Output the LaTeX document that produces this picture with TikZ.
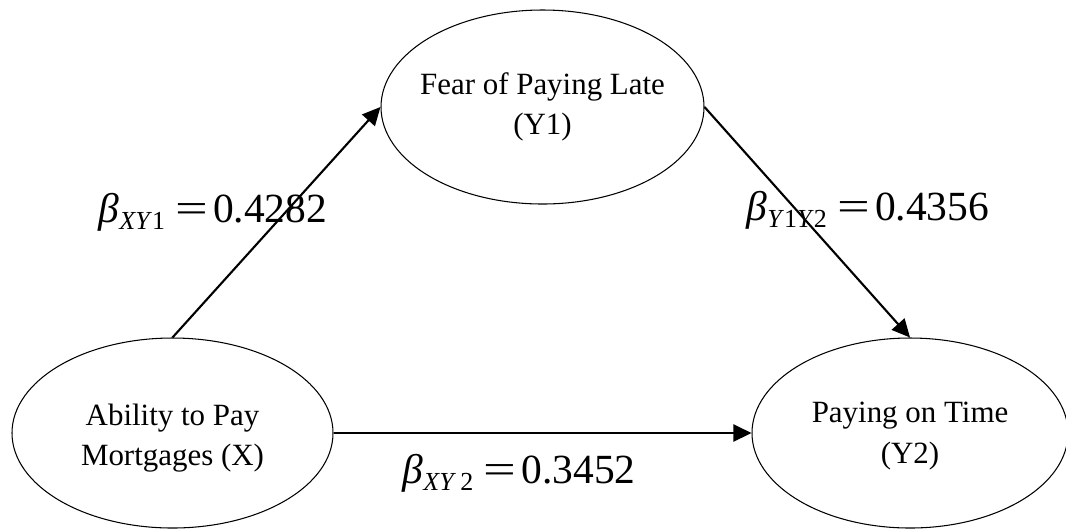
\documentclass[tikz,border=0pt]{standalone}
\usepackage{fontspec}
\setmainfont{Liberation Serif}
\usetikzlibrary{arrows.meta,shapes.geometric}
\newcommand{\coef}[2]{\textit{β}\raisebox{-0.17em}{\fontsize{7.4}{7.4}\selectfont #1}\hspace{0.25em}\scalebox{1.4}[1]{=}\hspace{0.12em}#2}

\begin{document}
\begin{tikzpicture}[
  var/.style={ellipse, draw, line width=0.3pt, inner sep=0pt},
  vartext/.style={align=center, inner sep=0pt, font=\fontsize{8.8}{11.6}\selectfont},
  coefbox/.style={anchor=base west, inner sep=0pt, font=\rmfamily\fontsize{11.8}{13}\selectfont},
  link/.style={-{Triangle[length=0.18cm,width=0.17cm]}, line width=0.6pt}
]
\useasboundingbox (0,0) rectangle (10.66,5.30);
\node[var, minimum width=3.23cm, minimum height=1.94cm] (Y1) at (5.425,4.23) {};
\node[var, minimum width=3.21cm, minimum height=1.90cm] (X) at (1.725,0.97) {};
\node[var, minimum width=3.16cm, minimum height=1.90cm] (Y2) at (9.10,0.97) {};
\node[vartext] (Y1text) at (Y1) {Fear of Paying Late\\(Y1)};
\node[vartext] (Xtext) at ([yshift=-0.05cm]X) {Ability to Pay\\Mortgages (X)};
\node[vartext] (Y2text) at ([yshift=-0.03cm]Y2) {Paying on Time\\(Y2)};
\draw[link] (X.north) -- (Y1.west);
\draw[link] (Y1.east) -- (Y2.north);
\draw[link] (X.east) -- (Y2.west);
\node[coefbox] (bXY1) at (0.98,3.08) {\coef{\textit{XY}1}{0.4282}};
\node[coefbox] (bY1Y2) at (7.46,3.10) {\coef{\textit{Y}1\textit{Y}2}{0.4356}};
\node[coefbox] (bXY2) at (4.02,0.47) {\coef{\textit{XY}\,2}{0.3452}};
\end{tikzpicture}
\end{document}
